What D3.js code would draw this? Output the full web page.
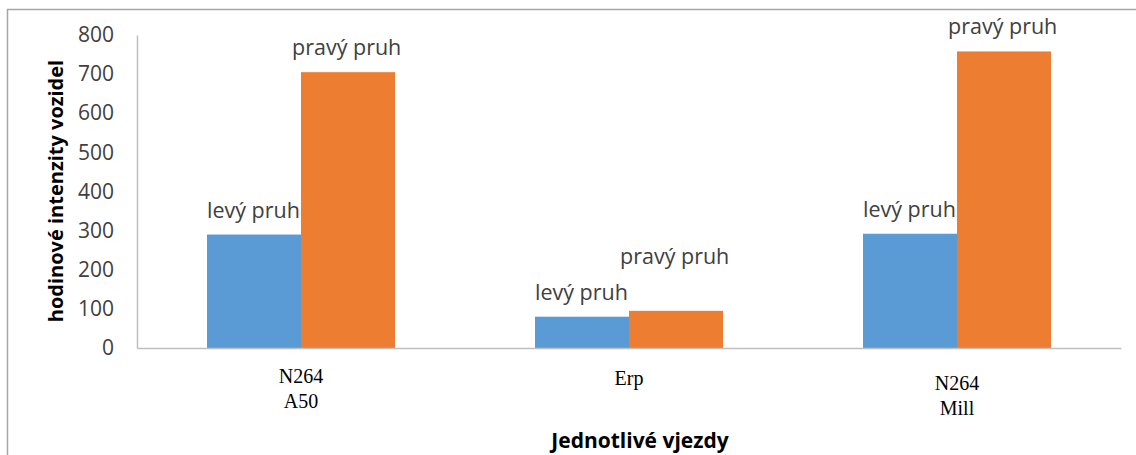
<!DOCTYPE html>
<html>
<head>
<meta charset="utf-8">
<script src="https://cdn.jsdelivr.net/npm/d3@7"></script>
<style>
  body { margin: 0; background: #fff; }
  svg { display: block; }
</style>
</head>
<body>
<svg id="chart"></svg>
<script>
// data
const categories = ["N264\nA50", "Erp", "N264\nMill"];
const seriesNames = ["levý pruh", "pravý pruh"];
const levy = [290, 80, 292];
const pravy = [705, 95, 758];
const yTicks = [0, 100, 200, 300, 400, 500, 600, 700, 800];
const colors = ["#5b9bd5", "#ed7d31"];

const width = 1136, height = 455;
const marginLeft = 137, marginRight = 15, marginTop = 35, marginBottom = 107;
const sans = "'Open Sans', Lato, sans-serif";

const svg = d3.select("#chart")
    .attr("width", width)
    .attr("height", height)
    .attr("viewBox", [0, 0, width, height]);

// outer chart frame (bottom and right run off the picture)
svg.append("rect")
    .attr("x", 7.5).attr("y", 9.5)
    .attr("width", width).attr("height", height)
    .attr("fill", "none")
    .attr("stroke", "#a6a6a6")
    .attr("stroke-width", 1.5);

const x = d3.scaleBand()
    .domain(categories)
    .range([marginLeft, width - marginRight])
    .padding(0);

const x1 = d3.scaleBand()
    .domain(seriesNames)
    .range([0, 188])
    .padding(0);

const y = d3.scaleLinear()
    .domain([0, 800])
    .range([height - marginBottom, marginTop]);

const rows = categories.map((c, i) => ({cat: c, values: [levy[i], pravy[i]]}));

// bars
const groups = svg.append("g")
  .selectAll("g")
  .data(rows)
  .join("g")
    .attr("transform", d => `translate(${x(d.cat) + (x.bandwidth() - 188) / 2},0)`);

groups.selectAll("rect")
  .data(d => d.values.map((v, j) => ({v, s: seriesNames[j], j, cat: d.cat})))
  .join("rect")
    .attr("x", d => x1(d.s))
    .attr("y", d => y(d.v))
    .attr("width", x1.bandwidth())
    .attr("height", d => y(0) - y(d.v))
    .attr("fill", d => colors[d.j]);

// data labels; the Erp right lane label got pushed up to clear the left one
const labelLift = {"Erp": [0, 30]};
groups.selectAll("text")
  .data(d => d.values.map((v, j) => ({v, s: seriesNames[j], j, cat: d.cat})))
  .join("text")
    .attr("x", d => x1(d.s) - (d.j === 1 ? 9 : 0))
    .attr("y", d => y(d.v) - 17 - (labelLift[d.cat] ? labelLift[d.cat][d.j] : 0))
    .attr("font-family", sans)
    .attr("font-size", 21.5)
    .attr("fill", "#404040")
    .text(d => d.s);

// y axis
svg.append("g")
    .attr("transform", `translate(${marginLeft},0)`)
    .call(d3.axisLeft(y).tickValues(yTicks).tickSize(0).tickPadding(23))
    .call(g => g.select(".domain").attr("stroke", "#bfbfbf").attr("stroke-width", 1.5))
    .call(g => g.selectAll(".tick text")
        .attr("font-family", sans)
        .attr("font-size", 21)
        .attr("fill", "#404040"));

// x axis (baseline only, no ticks)
const xAxis = svg.append("g")
    .attr("transform", `translate(0,${y(0)})`)
    .call(d3.axisBottom(x).tickSize(0).tickFormat(""))
    .call(g => g.select(".domain").attr("stroke", "#bfbfbf").attr("stroke-width", 1.5));

const catShift = [0, 2, 7];
xAxis.selectAll(".tick text").remove();
xAxis.selectAll(".tick")
  .append("text")
    .attr("fill", "#000")
    .attr("font-family", "'Liberation Serif', 'Times New Roman', serif")
    .attr("font-size", 20)
    .attr("text-anchor", "middle")
    .attr("transform", (d, i) => `translate(0,${35 + catShift[i]})`)
  .selectAll("tspan")
  .data(d => d.split("\n"))
  .join("tspan")
    .attr("x", 0)
    .attr("dy", (d, i) => i === 0 ? 0 : 25)
    .text(d => d);

// axis titles
svg.append("text")
    .attr("x", x(categories[1]) + x.bandwidth() / 2 + 11)
    .attr("y", 448)
    .attr("text-anchor", "middle")
    .attr("font-family", sans)
    .attr("font-weight", "bold")
    .attr("font-size", 21)
    .attr("fill", "#000")
    .text("Jednotlivé vjezdy");

svg.append("text")
    .attr("transform", `translate(63,191) rotate(-90)`)
    .attr("text-anchor", "middle")
    .attr("font-family", sans)
    .attr("font-weight", "bold")
    .attr("font-size", 20)
    .attr("fill", "#000")
    .text("hodinové intenzity vozidel");
</script>
</body>
</html>
